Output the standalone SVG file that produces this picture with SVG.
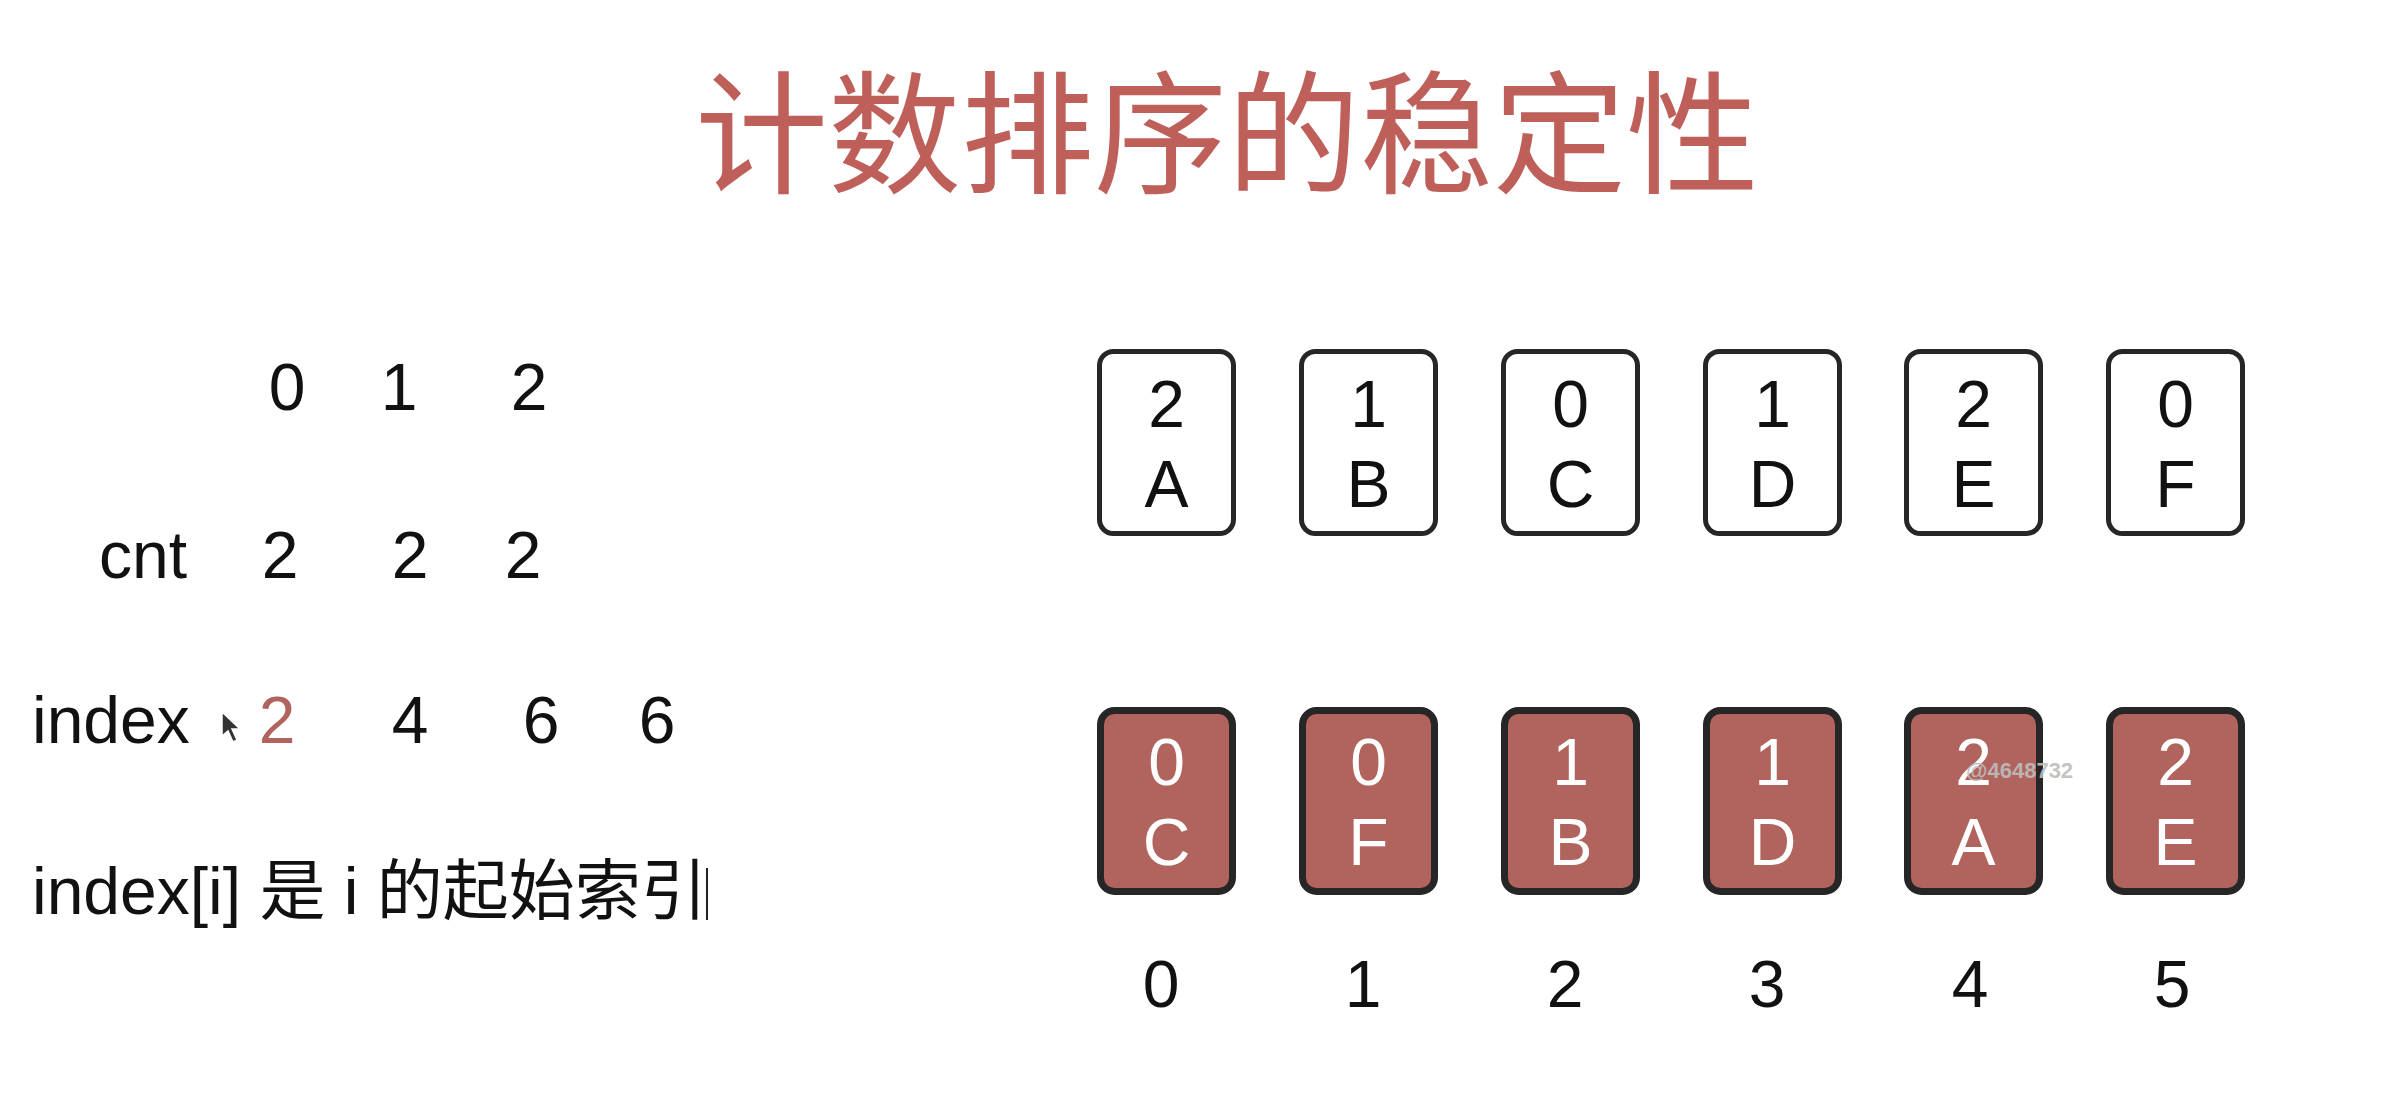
<svg xmlns="http://www.w3.org/2000/svg" width="2396" height="1104" viewBox="0 0 2396 1104">
<style>
.t{font-family:"Liberation Sans","Noto Sans CJK SC",sans-serif;font-size:66px;fill:#111;}
.c{text-anchor:middle;}
.title{font-family:"Noto Sans CJK SC","Noto Sans CJK JP",sans-serif;font-size:133px;fill:#BE5F5A;text-anchor:middle;}
.cardT{fill:#fff;stroke:#262626;stroke-width:5;}
.cardB{fill:#B0645D;stroke:#262626;stroke-width:7;}
.ct{font-family:"Liberation Sans",sans-serif;font-size:66px;fill:#111;text-anchor:middle;}
.cw{font-family:"Liberation Sans",sans-serif;font-size:66px;fill:#fff;text-anchor:middle;}
.red{fill:#B0645D;}
</style>
<rect width="2396" height="1104" fill="#fff"/>
<text class="title" x="1227" y="183">计数排序的稳定性</text>

<g id="left-table">
<text class="t c" x="287" y="410">0</text>
<text class="t c" x="399" y="410">1</text>
<text class="t c" x="529" y="410">2</text>
<text class="t" x="99" y="578">cnt</text>
<text class="t c" x="280" y="578">2</text>
<text class="t c" x="410" y="578">2</text>
<text class="t c" x="523" y="578">2</text>
<text class="t" x="32" y="743">index</text>
<text class="t c red" x="277" y="743">2</text>
<text class="t c" x="410" y="743">4</text>
<text class="t c" x="541" y="743">6</text>
<text class="t c" x="657" y="743">6</text>
<text class="t" x="32" y="914">index[i] 是 i 的起始索引</text>
<line x1="707" y1="868" x2="707" y2="920" stroke="#222" stroke-width="2"/>
<polygon points="222,712 222,736 228,731 233,742 237,740 232,729 240,729" fill="#333" stroke="#fff" stroke-width="1.5"/>
</g>

<g id="top-cards">
<g id="top-A"><rect class="cardT" x="1099.5" y="351.5" width="134" height="182" rx="14"/><text class="ct" x="1166.5" y="427">2</text><text class="ct" x="1166.5" y="507">A</text></g>
<g id="top-B"><rect class="cardT" x="1301.5" y="351.5" width="134" height="182" rx="14"/><text class="ct" x="1368.5" y="427">1</text><text class="ct" x="1368.5" y="507">B</text></g>
<g id="top-C"><rect class="cardT" x="1503.5" y="351.5" width="134" height="182" rx="14"/><text class="ct" x="1570.5" y="427">0</text><text class="ct" x="1570.5" y="507">C</text></g>
<g id="top-D"><rect class="cardT" x="1705.5" y="351.5" width="134" height="182" rx="14"/><text class="ct" x="1772.5" y="427">1</text><text class="ct" x="1772.5" y="507">D</text></g>
<g id="top-E"><rect class="cardT" x="1906.5" y="351.5" width="134" height="182" rx="14"/><text class="ct" x="1973.5" y="427">2</text><text class="ct" x="1973.5" y="507">E</text></g>
<g id="top-F"><rect class="cardT" x="2108.5" y="351.5" width="134" height="182" rx="14"/><text class="ct" x="2175.5" y="427">0</text><text class="ct" x="2175.5" y="507">F</text></g>
</g>

<g id="bottom-cards">
<g id="bot-0"><rect class="cardB" x="1100.5" y="710.5" width="132" height="181" rx="14"/><text class="cw" x="1166.5" y="785">0</text><text class="cw" x="1166.5" y="865">C</text></g>
<g id="bot-1"><rect class="cardB" x="1302.5" y="710.5" width="132" height="181" rx="14"/><text class="cw" x="1368.5" y="785">0</text><text class="cw" x="1368.5" y="865">F</text></g>
<g id="bot-2"><rect class="cardB" x="1504.5" y="710.5" width="132" height="181" rx="14"/><text class="cw" x="1570.5" y="785">1</text><text class="cw" x="1570.5" y="865">B</text></g>
<g id="bot-3"><rect class="cardB" x="1706.5" y="710.5" width="132" height="181" rx="14"/><text class="cw" x="1772.5" y="785">1</text><text class="cw" x="1772.5" y="865">D</text></g>
<g id="bot-4"><rect class="cardB" x="1907.5" y="710.5" width="132" height="181" rx="14"/><text class="cw" x="1973.5" y="785">2</text><text class="cw" x="1973.5" y="865">A</text></g>
<g id="bot-5"><rect class="cardB" x="2109.5" y="710.5" width="132" height="181" rx="14"/><text class="cw" x="2175.5" y="785">2</text><text class="cw" x="2175.5" y="865">E</text></g>
</g>

<g id="index-labels">
<text class="ct" x="1161" y="1007">0</text>
<text class="ct" x="1363" y="1007">1</text>
<text class="ct" x="1565" y="1007">2</text>
<text class="ct" x="1767" y="1007">3</text>
<text class="ct" x="1970" y="1007">4</text>
<text class="ct" x="2172" y="1007">5</text>
</g>

<text x="1966" y="778" font-family="Liberation Sans,sans-serif" font-weight="bold" font-size="22" fill="#bdbdbd" opacity="0.9">@4648732</text>
<g id="connectors"></g>
</svg>
